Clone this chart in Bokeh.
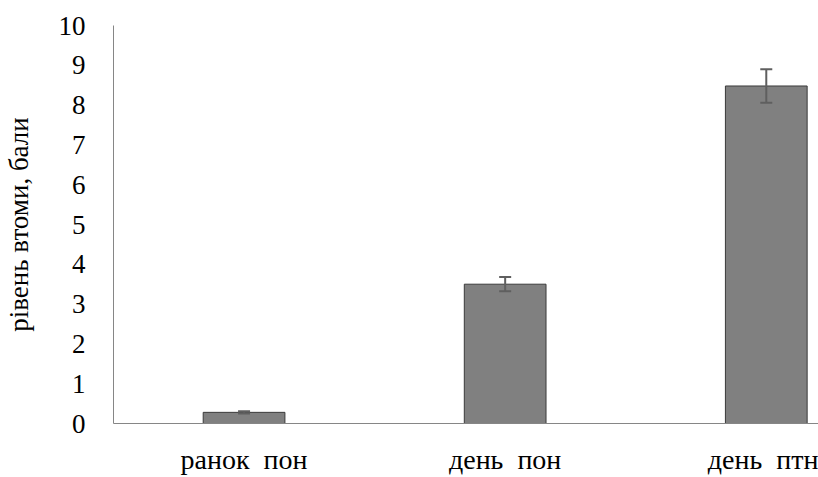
from bokeh.plotting import figure
from bokeh.models import ColumnDataSource, Range1d, FixedTicker, Whisker, TeeHead
from bokeh.embed import file_html
from bokeh.resources import INLINE

# Fatigue level by time of week
categories = ["ранок\u00a0\u00a0пон", "день\u00a0\u00a0пон", "день\u00a0\u00a0птн"]
means = [0.28, 3.50, 8.48]
errors = [0.03, 0.18, 0.42]
y_ticks = list(range(0, 11))

xpos = [i + 0.5 for i in range(len(categories))]
source = ColumnDataSource(data=dict(
    x=xpos,
    top=means,
    upper=[m + e for m, e in zip(means, errors)],
    lower=[m - e for m, e in zip(means, errors)],
))

p = figure(width=818, height=477, output_backend="svg", toolbar_location=None,
           x_range=Range1d(0, 2.70), y_range=Range1d(0, 10),
           min_border_left=111, min_border_right=0, min_border_top=25,
           min_border_bottom=54)
p.outline_line_color = None
p.xgrid.visible = False
p.ygrid.visible = False
p.background_fill_color = "white"
p.border_fill_color = "white"

p.vbar(x="x", top="top", width=0.313, bottom=0, source=source,
       fill_color="#808080", line_color="#3a3a3a", line_width=1)

whisker = Whisker(base="x", upper="upper", lower="lower", source=source,
                  line_color="#5f5f5f", line_width=2, level="overlay",
                  upper_head=TeeHead(size=12, line_color="#5f5f5f", line_width=2),
                  lower_head=TeeHead(size=12, line_color="#5f5f5f", line_width=2))
p.add_layout(whisker)

font = "Liberation Serif"

p.xaxis.ticker = FixedTicker(ticks=xpos)
p.xaxis.major_label_overrides = {x: c for x, c in zip(xpos, categories)}
p.yaxis.ticker = FixedTicker(ticks=y_ticks)

for ax in (p.xaxis[0], p.yaxis[0]):
    ax.axis_line_color = "#868686"
    ax.axis_line_width = 1
    ax.major_tick_line_color = None
    ax.minor_tick_line_color = None
    ax.major_tick_out = 0
    ax.major_tick_in = 0
    ax.major_label_text_font = font
    ax.major_label_text_color = "#000000"

p.xaxis.major_label_text_font_size = "28px"
p.xaxis.major_label_standoff = 20
p.yaxis.major_label_text_font_size = "27px"
p.yaxis.major_label_standoff = 28

p.yaxis.axis_label = "рівень втоми, бали"
p.yaxis.axis_label_text_font = font
p.yaxis.axis_label_text_font_size = "27px"
p.yaxis.axis_label_text_font_style = "normal"
p.yaxis.axis_label_text_color = "#000000"
p.yaxis.axis_label_standoff = 22

open("out.html", "w").write(file_html(p, INLINE))
